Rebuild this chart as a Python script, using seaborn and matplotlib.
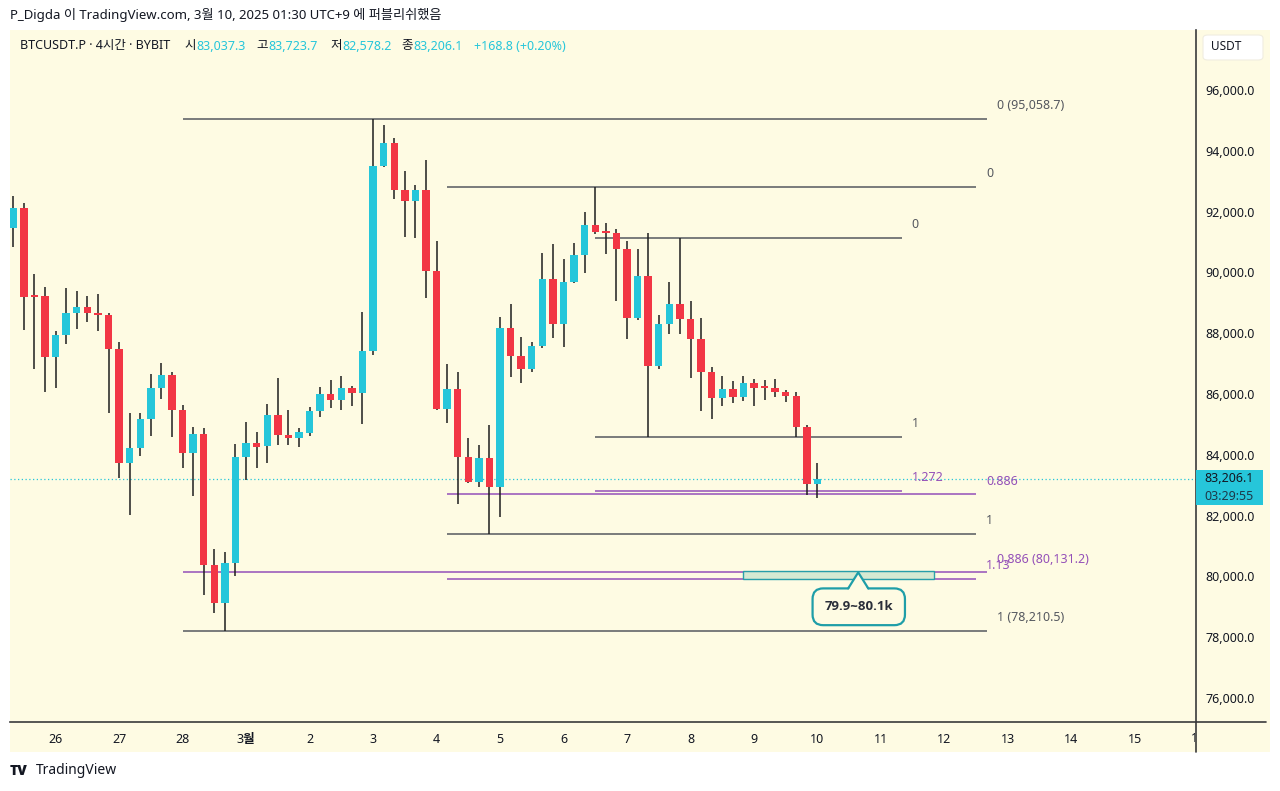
import numpy as np
import pandas as pd
import matplotlib
matplotlib.use("Agg")
import matplotlib.pyplot as plt
import seaborn as sns
from matplotlib.patches import Rectangle, Polygon, FancyBboxPatch
from matplotlib.lines import Line2D
from matplotlib.transforms import Bbox, blended_transform_factory

sns.set_theme(style="white")
plt.rcParams["font.family"] = ["Noto Sans", "Noto Sans CJK KR", "DejaVu Sans"]

W, H = 1280, 791
BG = "#fefbe3"
UP = "#26c6da"
DOWN = "#f23645"
WICK = "#1e1e1e"
FIB = "#55585f"
PURPLE = "#9450b8"
TEAL = "#1f9ea8"
TXT = "#131722"

# ---------------------------------------------------------------
# BTCUSDT.P 4h candles (Feb 25 - Mar 10 2025)
# ---------------------------------------------------------------
opens = [91460, 92118, 89230, 89224, 87217, 87940, 88664, 88862, 88664, 88599,
         87480, 83730, 84224, 85177, 86197, 86625, 85474, 84059, 84684, 80375,
         79125, 80441, 83927, 84388, 84290, 85309, 84651, 84552, 84720, 85441,
         85999, 85802, 86197, 86033, 87414, 93500, 94257, 92711, 92349, 92711,
         90046, 85507, 86165, 83927, 83105, 83894, 82940, 88171, 87250, 86822,
         87579, 89783, 88303, 89684, 90572, 91559, 91329, 91290, 90770, 88500,
         89882, 86921, 88303, 88961, 88467, 87809, 86724, 85869, 86165, 85902,
         86362, 86205, 86197, 86066, 85934, 84915, 83037.3]
highs = [92513, 92283, 89947, 89520, 88072, 89487, 89388, 89224, 89290, 88664,
         87710, 85375, 85375, 86658, 87020, 86724, 85638, 84914, 84881, 80901,
         80802, 84355, 85079, 84750, 85671, 86526, 85474, 84881, 85572, 86230,
         86460, 86592, 86263, 88697, 95058.7, 94849, 94421, 93335, 92875, 93697,
         91033, 86987, 86724, 84552, 84322, 84980, 88533, 88961, 87875, 87710,
         90638, 90934, 90441, 90967, 91987, 92809, 91625, 91428, 91033, 90770,
         91296, 88599, 89684, 91132, 89059, 88500, 86888, 86592, 86428, 86592,
         86493, 86460, 86493, 86132, 86066, 84980, 83723.7]
lows = [90835, 88105, 86822, 86066, 86197, 87645, 88138, 88368, 88072, 85375,
        83237, 82020, 83960, 84619, 85836, 84586, 83565, 82645, 79388, 78796,
        78210.5, 80013, 83171, 83565, 83730, 84322, 84322, 84256, 84619, 85243,
        85539, 85474, 85605, 85013, 87283, 93467, 92415, 91165, 91132, 89158,
        85474, 85046, 82382, 83072, 82940, 81395, 81954, 86559, 86362, 86724,
        87500, 87842, 87546, 89650, 89980, 91263, 90605, 89059, 87809, 88434,
        84585, 86822, 87974, 87974, 86526, 85441, 85178, 85605, 85704, 85770,
        85605, 85803, 85902, 85737, 84585, 82678, 82578.2]
closes = [92118, 89191, 89200, 87217, 87940, 88664, 88862, 88664, 88599, 87480,
          83730, 84224, 85177, 86197, 86625, 85474, 84059, 84684, 80375, 79125,
          80441, 83927, 84388, 84250, 85309, 84651, 84552, 84750, 85441, 85999,
          85802, 86197, 86033, 87414, 93500, 94257, 92711, 92349, 92711, 90046,
          85507, 86165, 83927, 83105, 83894, 82940, 88171, 87250, 86822, 87579,
          89783, 88303, 89684, 90572, 91559, 91329, 91290, 90770, 88500, 89882,
          86921, 88303, 88961, 88467, 87809, 86724, 85869, 86165, 85902, 86362,
          86197, 86190, 86066, 85934, 84915, 83037.3, 83206.1]

day_ticks = [4, 10, 16, 22, 28, 34, 40, 46, 52, 58, 64, 70, 76, 82, 88, 94, 100, 106]
day_labels = ["26", "27", "28", "3월", "2", "3", "4", "5", "6", "7", "8", "9",
              "10", "11", "12", "13", "14", "15"]
price_ticks = [76000, 78000, 80000, 82000, 84000, 86000, 88000, 90000, 92000, 94000, 96000]

# fib retracements: (start bar, end bar), levels, labels
fib_a_span = (16, 92)
fib_a_levels = [95058.7, 80131.2, 78210.5]
fib_a_labels = ["0 (95,058.7)", "0.886 (80,131.2)", "1 (78,210.5)"]
fib_b_span = (41, 91)
fib_b_levels = [92809, 82696, 81395, 79911]
fib_b_labels = ["0", "0.886", "1", "1.13"]
fib_c_span = (55, 84)
fib_c_levels = [91132, 84585, 82804]
fib_c_labels = ["0", "1", "1.272"]
purple_labels = ["0.886 (80,131.2)", "0.886", "1.13", "1.272"]

zone_span = (69, 87)
zone_range = (79911, 80190)
callout_text = "79.9~80.1k"
last_price = 83206.1
countdown = "03:29:55"

df = pd.DataFrame({"open": opens, "high": highs, "low": lows, "close": closes})
df["idx"] = np.arange(len(df))
df["up"] = df["close"] >= df["open"]

fig = plt.figure(figsize=(W / 100, H / 100), dpi=100)
fig.patch.set_facecolor("white")


def fx(x):
    return x / W


def fy(y):
    return 1 - y / H


# chart background incl. price/time axes
fig.patches.append(Rectangle((fx(10), fy(752)), fx(1260), (752 - 30) / H,
                             transform=fig.transFigure, fc=BG, ec="none", zorder=-5))

ax = fig.add_axes([fx(10), fy(722), fx(1186), (722 - 30) / H])
ax.set_zorder(2)
ax.set_facecolor(BG)
ax.set_xlim(-0.31, 111.77)
ax.set_ylim(75210, 97974)

# candles
ax.vlines(df["idx"], df["low"], df["high"], color=WICK, lw=1.1, zorder=3)
body_h = (df["close"] - df["open"]).abs().clip(lower=60)
body_b = df[["open", "close"]].min(axis=1)
ax.bar(df["idx"], body_h, bottom=body_b, width=0.7,
       color=np.where(df["up"], UP, DOWN), lw=0, zorder=4)

# last price dotted line
ax.axhline(last_price, color=UP, lw=0.9, ls=(0, (1, 2)), zorder=1.5)


def draw_fib(span, levels, labels):
    for lv, lb in zip(levels, labels):
        col = PURPLE if lb in purple_labels else FIB
        ax.hlines(lv, span[0], span[1], color=col, lw=1.1, zorder=2)
        ax.annotate(lb, xy=(span[1], lv), xytext=(7, 9.5), textcoords="offset points",
                    ha="left", va="center", fontsize=9, color=col, zorder=5)


draw_fib(fib_a_span, fib_a_levels, fib_a_labels)
draw_fib(fib_b_span, fib_b_levels, fib_b_labels)
draw_fib(fib_c_span, fib_c_levels, fib_c_labels)

# target zone
ax.add_patch(Rectangle((zone_span[0], zone_range[0]), zone_span[1] - zone_span[0],
                       zone_range[1] - zone_range[0], fc="#d3ead2", ec=TEAL, lw=1.0,
                       alpha=0.95, zorder=2.5))

# callout
cx = (zone_span[0] + zone_span[1]) / 2 + 1.9
ann = ax.annotate(callout_text, xy=(cx, 79000), ha="center", va="center", fontsize=9.5,
                  fontweight="bold", family=["Open Sans", "DejaVu Sans"], color="#2a2e39",
                  zorder=6,
                  bbox=dict(boxstyle="round,pad=0.9,rounding_size=0.8", fc=BG, ec=TEAL, lw=1.6))
fig.canvas.draw()
bb = ann.get_bbox_patch().get_window_extent()
inv = ax.transData.inverted()
(bx0, by0), (bx1, by1) = inv.transform([[bb.x0, bb.y0], [bb.x1, bb.y1]])
eps = 70
ax.add_patch(Polygon([(cx - 1.0, by1 - eps), (cx - 0.05, fib_a_levels[1]), (cx + 0.9, by1 - eps)],
                     closed=True, fc=BG, ec="none", zorder=7))
ax.add_line(Line2D([cx - 1.0, cx - 0.05, cx + 0.9], [by1, fib_a_levels[1], by1],
                   color=TEAL, lw=1.6, zorder=8, solid_joinstyle="round"))

# axes styling
for side in ["top", "left"]:
    ax.spines[side].set_visible(False)
for side in ["bottom", "right"]:
    ax.spines[side].set_color("#3a3a3a")
    ax.spines[side].set_linewidth(1.2)
ax.yaxis.tick_right()
ax.set_yticks(price_ticks)
ax.set_yticklabels([f"{p:,.1f}" for p in price_ticks])
ax.set_xticks(day_ticks)
ax.set_xticklabels(day_labels)
for t in ax.get_xticklabels():
    if t.get_text() == "3월":
        t.set_fontweight("bold")
ax.tick_params(axis="y", length=0, pad=7, labelsize=9, labelcolor=TXT)
ax.tick_params(axis="x", length=0, pad=8, labelsize=9, labelcolor=TXT)
ax.grid(False)

# axis lines continuing into the price/time scale
fig.add_artist(Line2D([fx(1196), fx(1266)], [fy(722), fy(722)], color="#3a3a3a", lw=1.2))
fig.add_artist(Line2D([fx(1196), fx(1196)], [fy(722), fy(752)], color="#3a3a3a", lw=1.2))

# clipped "16" day label behind the price scale
t16 = fig.text(fx(1198), fy(738), "16", ha="center", va="center", fontsize=9, color=TXT)
t16.set_clip_box(Bbox([[10, H - 752], [1195, H - 722]]))
t16.set_clip_on(True)

# last price tag
trans = blended_transform_factory(ax.transAxes, ax.transData)
ax.add_patch(Rectangle((1.0, last_price - 855), 67 / 1186, 1151, transform=trans,
                       fc=UP, ec="none", clip_on=False, zorder=9))
ax.annotate(f"{last_price:,.1f}", xy=(1.0, last_price), xycoords=trans, xytext=(6, 0),
            textcoords="offset points", ha="left", va="center", fontsize=9, color=TXT,
            annotation_clip=False, zorder=10)
ax.annotate(countdown, xy=(1.0, last_price), xycoords=trans, xytext=(6, -12.3),
            textcoords="offset points", ha="left", va="center", fontsize=9, color="#1d3a4a",
            annotation_clip=False, zorder=10)

# USDT box
fig.patches.append(FancyBboxPatch((fx(1203), fy(60)), fx(60), 25 / H,
                                  boxstyle="round,pad=0,rounding_size=0.004",
                                  transform=fig.transFigure, fc="white", ec="#f0ede0", lw=0.8,
                                  zorder=5))
fig.text(fx(1211), fy(47), "USDT", ha="left", va="center", fontsize=8.5, color=TXT, zorder=6)

# header lines
fig.text(fx(10), fy(15), "P_Digda 이 TradingView.com, 3월 10, 2025 01:30 UTC+9 에 퍼블리쉬했음",
         ha="left", va="center", fontsize=9.5, color=TXT)
segments = [(20, "BTCUSDT.P · 4시간 · BYBIT", TXT), (184, "시", TXT), (196, "83,037.3", UP),
            (256, "고", TXT), (268, "83,723.7", UP), (330, "저", TXT), (342, "82,578.2", UP),
            (401, "종", TXT), (413, "83,206.1", UP), (474, "+168.8 (+0.20%)", UP)]
for x, s, c in segments:
    fig.text(fx(x), fy(46), s, ha="left", va="center", fontsize=9, color=c, zorder=6)

# footer logo
fig.text(fx(10), fy(771), "TV", ha="left", va="center", fontsize=10, fontweight="heavy",
         family=["Open Sans", "DejaVu Sans"], color=TXT)
fig.text(fx(36), fy(771), "TradingView", ha="left", va="center", fontsize=10, color=TXT)

fig.savefig("out.png", dpi=100, facecolor="white")
